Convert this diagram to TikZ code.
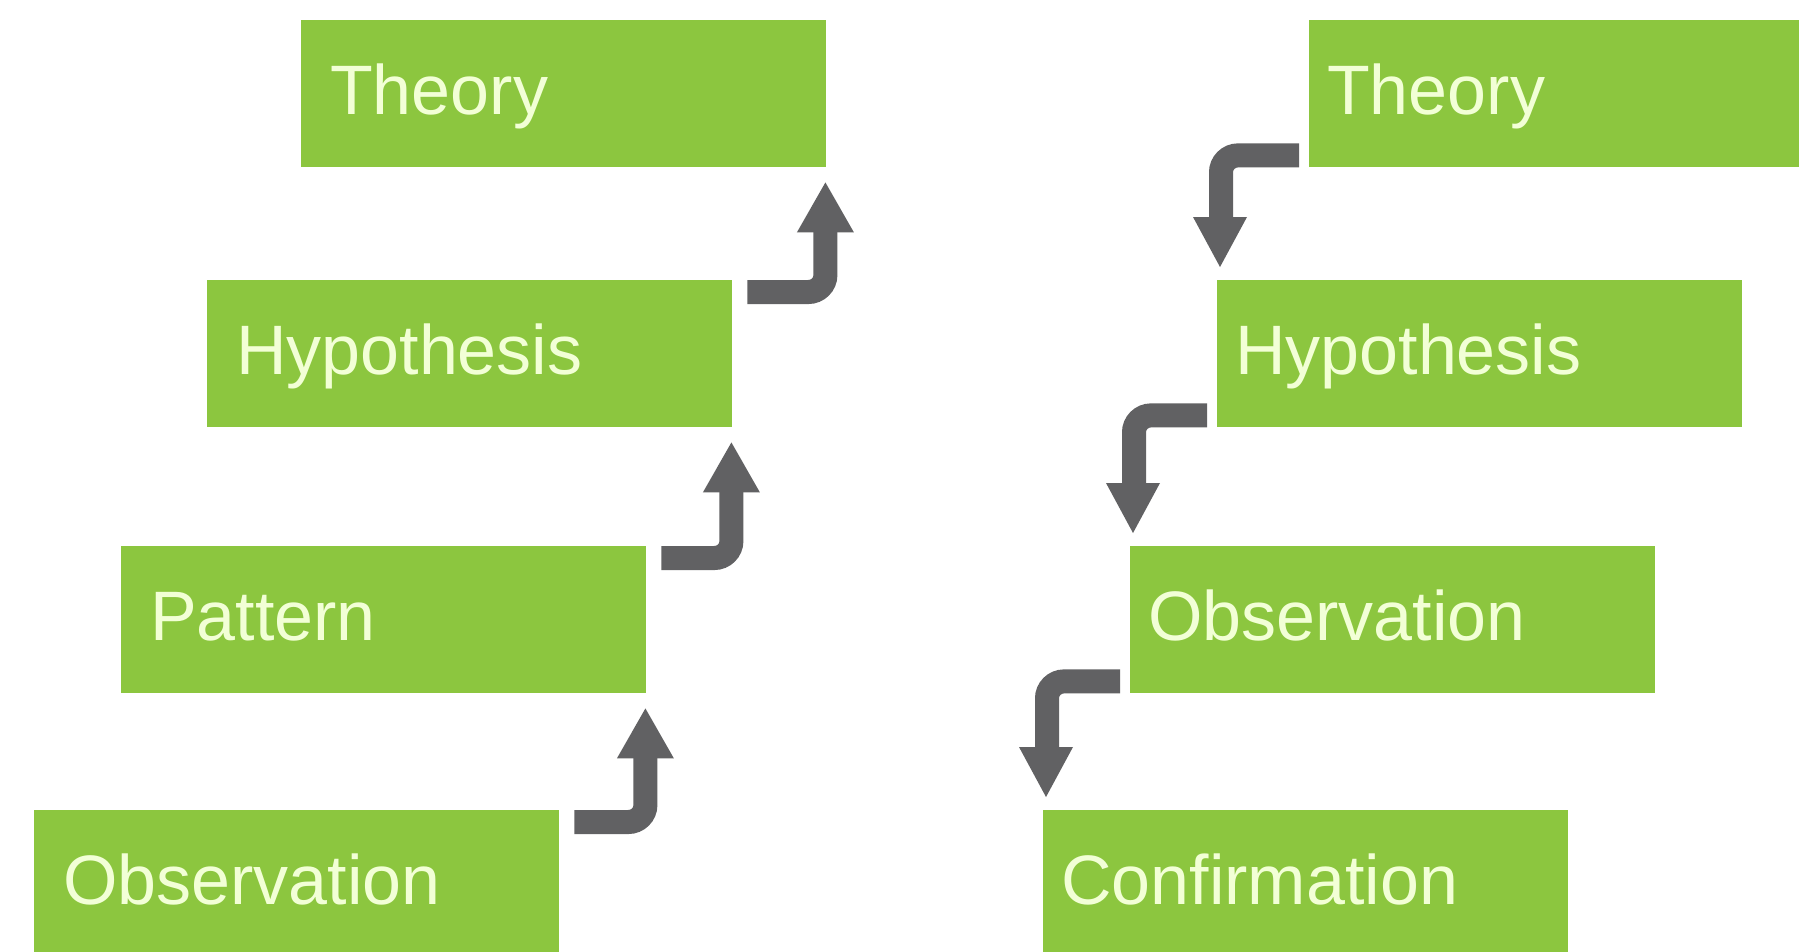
\documentclass[tikz,border=0pt]{standalone}
\usepackage{fontspec}
\setmainfont{Liberation Sans}
\usetikzlibrary{calc}
\definecolor{boxgreen}{RGB}{140,198,63}
\definecolor{boxtext}{RGB}{242,255,214}
\definecolor{arrgray}{RGB}{97,97,99}
\tikzset{
 stepbox/.style={anchor=north west, fill=boxgreen, text=boxtext, minimum width=525pt, minimum height=147pt, inner ysep=0pt, text height=94pt, text depth=53pt, align=left, font=\fontsize{70}{84}\selectfont},
 leftbox/.style={stepbox, inner xsep=29pt, text width=467pt},
 rightbox/.style={stepbox, inner xsep=18pt, text width=489pt},
 flow/.style={draw=arrgray, line width=24pt, rounded corners=17pt},
 head/.style={fill=arrgray},
}
\begin{document}
\begin{tikzpicture}[x=1pt,y=-1pt]
\fill[white] (0,0) rectangle (1799,951);
\useasboundingbox (0,0) rectangle (1799,951);
% left column
\node[leftbox] (t1) at (301,20) {Theory};
\node[leftbox] (h1) at (207,280) {Hypothesis};
\node[leftbox] (p1) at (121,546) {Pattern};
\node[leftbox] (o1) at (34,810) {Observation};
% right column
\node[rightbox] (t2) at (1309,20) {Theory};
\node[rightbox] (h2) at (1217,280) {Hypothesis};
\node[rightbox] (o2) at (1130,546) {Observation};
\node[rightbox] (c2) at (1043,810) {Confirmation};
% left arrows (upwards)
\draw[flow] ($(o1.north east)+(15,12)$) -| ($(p1.south east)+(-1,64)$);
\fill[head] ($(p1.south east)+(-29.5,65)$) -- ($(p1.south east)+(-1,15)$) -- ($(p1.south east)+(27.5,65)$) -- cycle;
\draw[flow] ($(p1.north east)+(15,12)$) -| ($(h1.south east)+(-1,64)$);
\fill[head] ($(h1.south east)+(-29.5,65)$) -- ($(h1.south east)+(-1,15)$) -- ($(h1.south east)+(27.5,65)$) -- cycle;
\draw[flow] ($(h1.north east)+(15,12)$) -| ($(t1.south east)+(-1,64)$);
\fill[head] ($(t1.south east)+(-29.5,65)$) -- ($(t1.south east)+(-1,15)$) -- ($(t1.south east)+(27.5,65)$) -- cycle;
% right arrows (downwards)
\draw[flow] ($(t2.south west)+(-10,-12)$) -| ($(h2.north west)+(4,-62)$);
\fill[head] ($(h2.north west)+(-24,-63)$) -- ($(h2.north west)+(3,-13)$) -- ($(h2.north west)+(30,-63)$) -- cycle;
\draw[flow] ($(h2.south west)+(-10,-12)$) -| ($(o2.north west)+(4,-62)$);
\fill[head] ($(o2.north west)+(-24,-63)$) -- ($(o2.north west)+(3,-13)$) -- ($(o2.north west)+(30,-63)$) -- cycle;
\draw[flow] ($(o2.south west)+(-10,-12)$) -| ($(c2.north west)+(4,-62)$);
\fill[head] ($(c2.north west)+(-24,-63)$) -- ($(c2.north west)+(3,-13)$) -- ($(c2.north west)+(30,-63)$) -- cycle;
\end{tikzpicture}
\end{document}
